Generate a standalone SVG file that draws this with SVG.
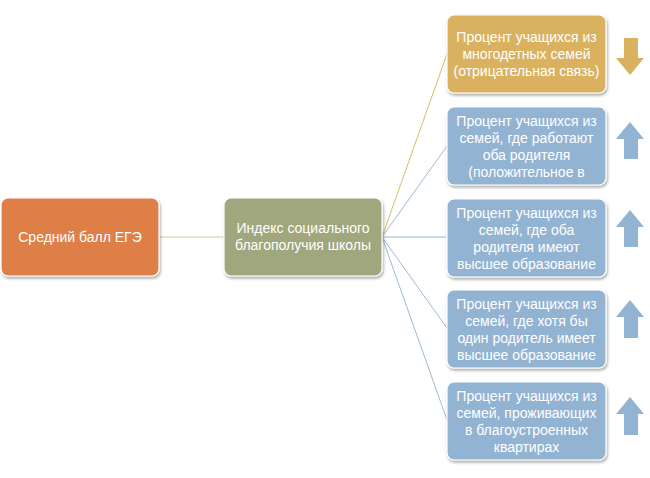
<svg xmlns="http://www.w3.org/2000/svg" width="650" height="478" viewBox="0 0 650 478">
<defs>
<filter id="sh" x="-10%" y="-10%" width="125%" height="130%">
<feGaussianBlur in="SourceAlpha" stdDeviation="1.5"/>
<feOffset dx="1" dy="2" result="b"/>
<feComponentTransfer><feFuncA type="linear" slope="0.35"/></feComponentTransfer>
<feMerge><feMergeNode/><feMergeNode in="SourceGraphic"/></feMerge>
</filter>
</defs>
<style>
.box{stroke:#ffffff;stroke-width:1.2;filter:url(#sh)}
.t{font-family:"Liberation Sans",Arial,sans-serif;font-size:14px;fill:#ffffff;text-anchor:middle}
.gold{fill:#D9B15F}
.blue{fill:#93B3D2}
.ln{fill:none;stroke-width:1}
</style>
<rect width="650" height="478" fill="#ffffff"/>
<g id="connectors">
<line class="ln" x1="159" y1="237" x2="224" y2="237" stroke="#C6CBA5"/>
<line class="ln" x1="382" y1="237" x2="447" y2="54" stroke="#E0BA6B"/>
<line class="ln" x1="382" y1="237" x2="447" y2="146" stroke="#9DB9D5"/>
<line class="ln" x1="382" y1="237" x2="447" y2="237" stroke="#9DB9D5"/>
<line class="ln" x1="382" y1="237" x2="447" y2="328" stroke="#9DB9D5"/>
<line class="ln" x1="382" y1="237" x2="447" y2="420" stroke="#9DB9D5"/>
</g>
<g id="n1">
<rect class="box" x="1" y="198" width="158" height="78" rx="7" fill="#DE7F47"/>
<text class="t" x="80" y="242">Средний балл ЕГЭ</text>
</g>
<g id="n2">
<rect class="box" x="224" y="198" width="158" height="78" rx="7" fill="#A0A77C"/>
<text class="t" x="303" y="233">Индекс социального</text>
<text class="t" x="303" y="250">благополучия школы</text>
</g>
<g id="nA">
<rect class="box gold" x="447" y="15" width="159" height="78" rx="7"/>
<text class="t" x="526.5" y="42">Процент учащихся из</text>
<text class="t" x="526.5" y="59">многодетных семей</text>
<text class="t" x="526.5" y="76">(отрицательная связь)</text>
<polygon class="gold" points="624,38 638,38 638,58 644,58 630,75 616,58 624,58"/>
</g>
<g id="nB">
<rect class="box blue" x="447" y="107" width="159" height="78" rx="7"/>
<text class="t" x="526.5" y="125.5">Процент учащихся из</text>
<text class="t" x="526.5" y="142.5">семей, где работают</text>
<text class="t" x="526.5" y="159.5">оба родителя</text>
<text class="t" x="526.5" y="176.5">(положительное в</text>
<polygon class="blue" points="630,122 644,139 638,139 638,159 624,159 624,139 616,139"/>
</g>
<g id="nC">
<rect class="box blue" x="447" y="199" width="159" height="78" rx="7"/>
<text class="t" x="526.5" y="217.5">Процент учащихся из</text>
<text class="t" x="526.5" y="234.5">семей, где оба</text>
<text class="t" x="526.5" y="251.5">родителя имеют</text>
<text class="t" x="526.5" y="268.5">высшее образование</text>
<polygon class="blue" points="630,210 644,227 638,227 638,247 624,247 624,227 616,227"/>
</g>
<g id="nD">
<rect class="box blue" x="447" y="290" width="159" height="78" rx="7"/>
<text class="t" x="526.5" y="308.5">Процент учащихся из</text>
<text class="t" x="526.5" y="325.5">семей, где хотя бы</text>
<text class="t" x="526.5" y="342.5">один родитель имеет</text>
<text class="t" x="526.5" y="359.5">высшее образование</text>
<polygon class="blue" points="630,300 644,317 638,317 638,338 624,338 624,317 616,317"/>
</g>
<g id="nE">
<rect class="box blue" x="447" y="382" width="159" height="78" rx="7"/>
<text class="t" x="526.5" y="400.5">Процент учащихся из</text>
<text class="t" x="526.5" y="417.5">семей, проживающих</text>
<text class="t" x="526.5" y="434.5">в благоустроенных</text>
<text class="t" x="526.5" y="451.5">квартирах</text>
<polygon class="blue" points="630,397 644,414 638,414 638,435 624,435 624,414 616,414"/>
</g>
</svg>
